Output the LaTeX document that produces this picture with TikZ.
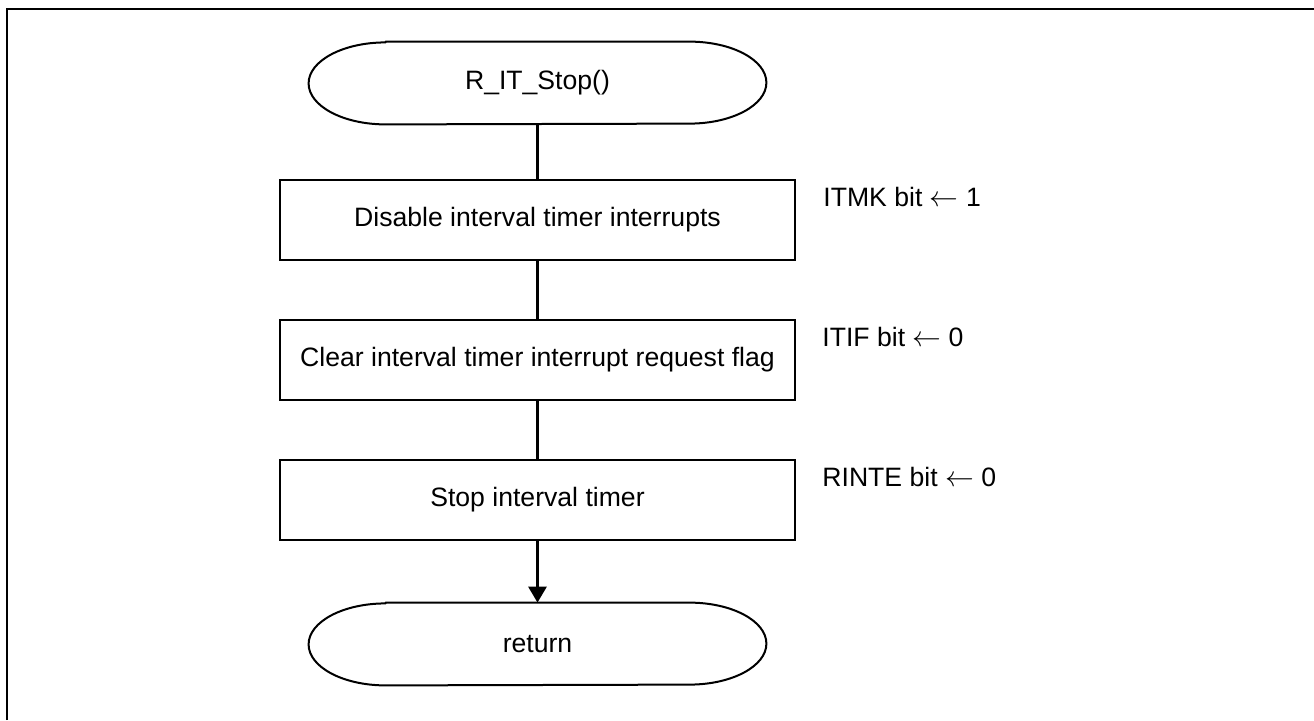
\documentclass[tikz,border=0pt]{standalone}
\usepackage{fontspec}
\setmainfont{Liberation Sans}
\usepackage{tikz}
\usetikzlibrary{calc,arrows.meta}

\tikzset{
  txt/.style={font=\fontsize{13.3pt}{16pt}\selectfont},
  process/.style={txt,draw,line width=1pt,minimum width=257.5pt,minimum height=40pt,inner sep=0pt},
  terminal/.style={txt,minimum width=228.5pt,minimum height=41pt,inner sep=0pt},
  termline/.style={line width=1pt,line join=round},
  flowline/.style={line width=1.5pt},
  note/.style={txt,anchor=west,inner sep=0pt}
}
% outline of a start/end box
\newcommand{\drawterminal}[1]{%
  \draw[termline] ($(#1.north west)+(38.5pt,0)$) -- ($(#1.north east)+(-38.5pt,0)$)
    arc[start angle=90,end angle=-90,x radius=38.5pt,y radius=20.5pt]
    -- ($(#1.south west)+(38.5pt,0)$)
    arc[start angle=270,end angle=90,x radius=38.5pt,y radius=20.5pt] -- cycle;}

\begin{document}
\begin{tikzpicture}[x=0.5pt,y=-0.5pt]
\useasboundingbox (0,0) rectangle (1314,720);
%frame
\draw[line width=1pt] (7,720) -- (7,9) -- (1314,9);

\node[terminal] (start) at (537.5,83) {R\_IT\_Stop()};
\drawterminal{start}
\node[process] (disable) at (537.5,220) {Disable interval timer interrupts};
\node[process] (clear) at (537.5,360) {Clear interval timer interrupt request flag};
\node[process] (stopit) at (537.5,500) {Stop interval timer};
\node[terminal] (ret) at (537.5,644) {return};
\drawterminal{ret}

\node[note] (itmk) at ($(disable.north east)+(13.5pt,-9pt)$) {ITMK bit $\leftarrow$ 1};
\node[note] (itif) at ($(clear.north east)+(13pt,-9pt)$) {ITIF bit $\leftarrow$ 0};
\node[note] (rinte) at ($(stopit.north east)+(13pt,-9pt)$) {RINTE bit $\leftarrow$ 0};

\draw[flowline] (start) -- (disable);
\draw[flowline] (disable) -- (clear);
\draw[flowline] (clear) -- (stopit);
\draw[flowline,-{Triangle[length=8pt,width=9pt]}] (stopit) -- (ret);
\end{tikzpicture}
\end{document}
